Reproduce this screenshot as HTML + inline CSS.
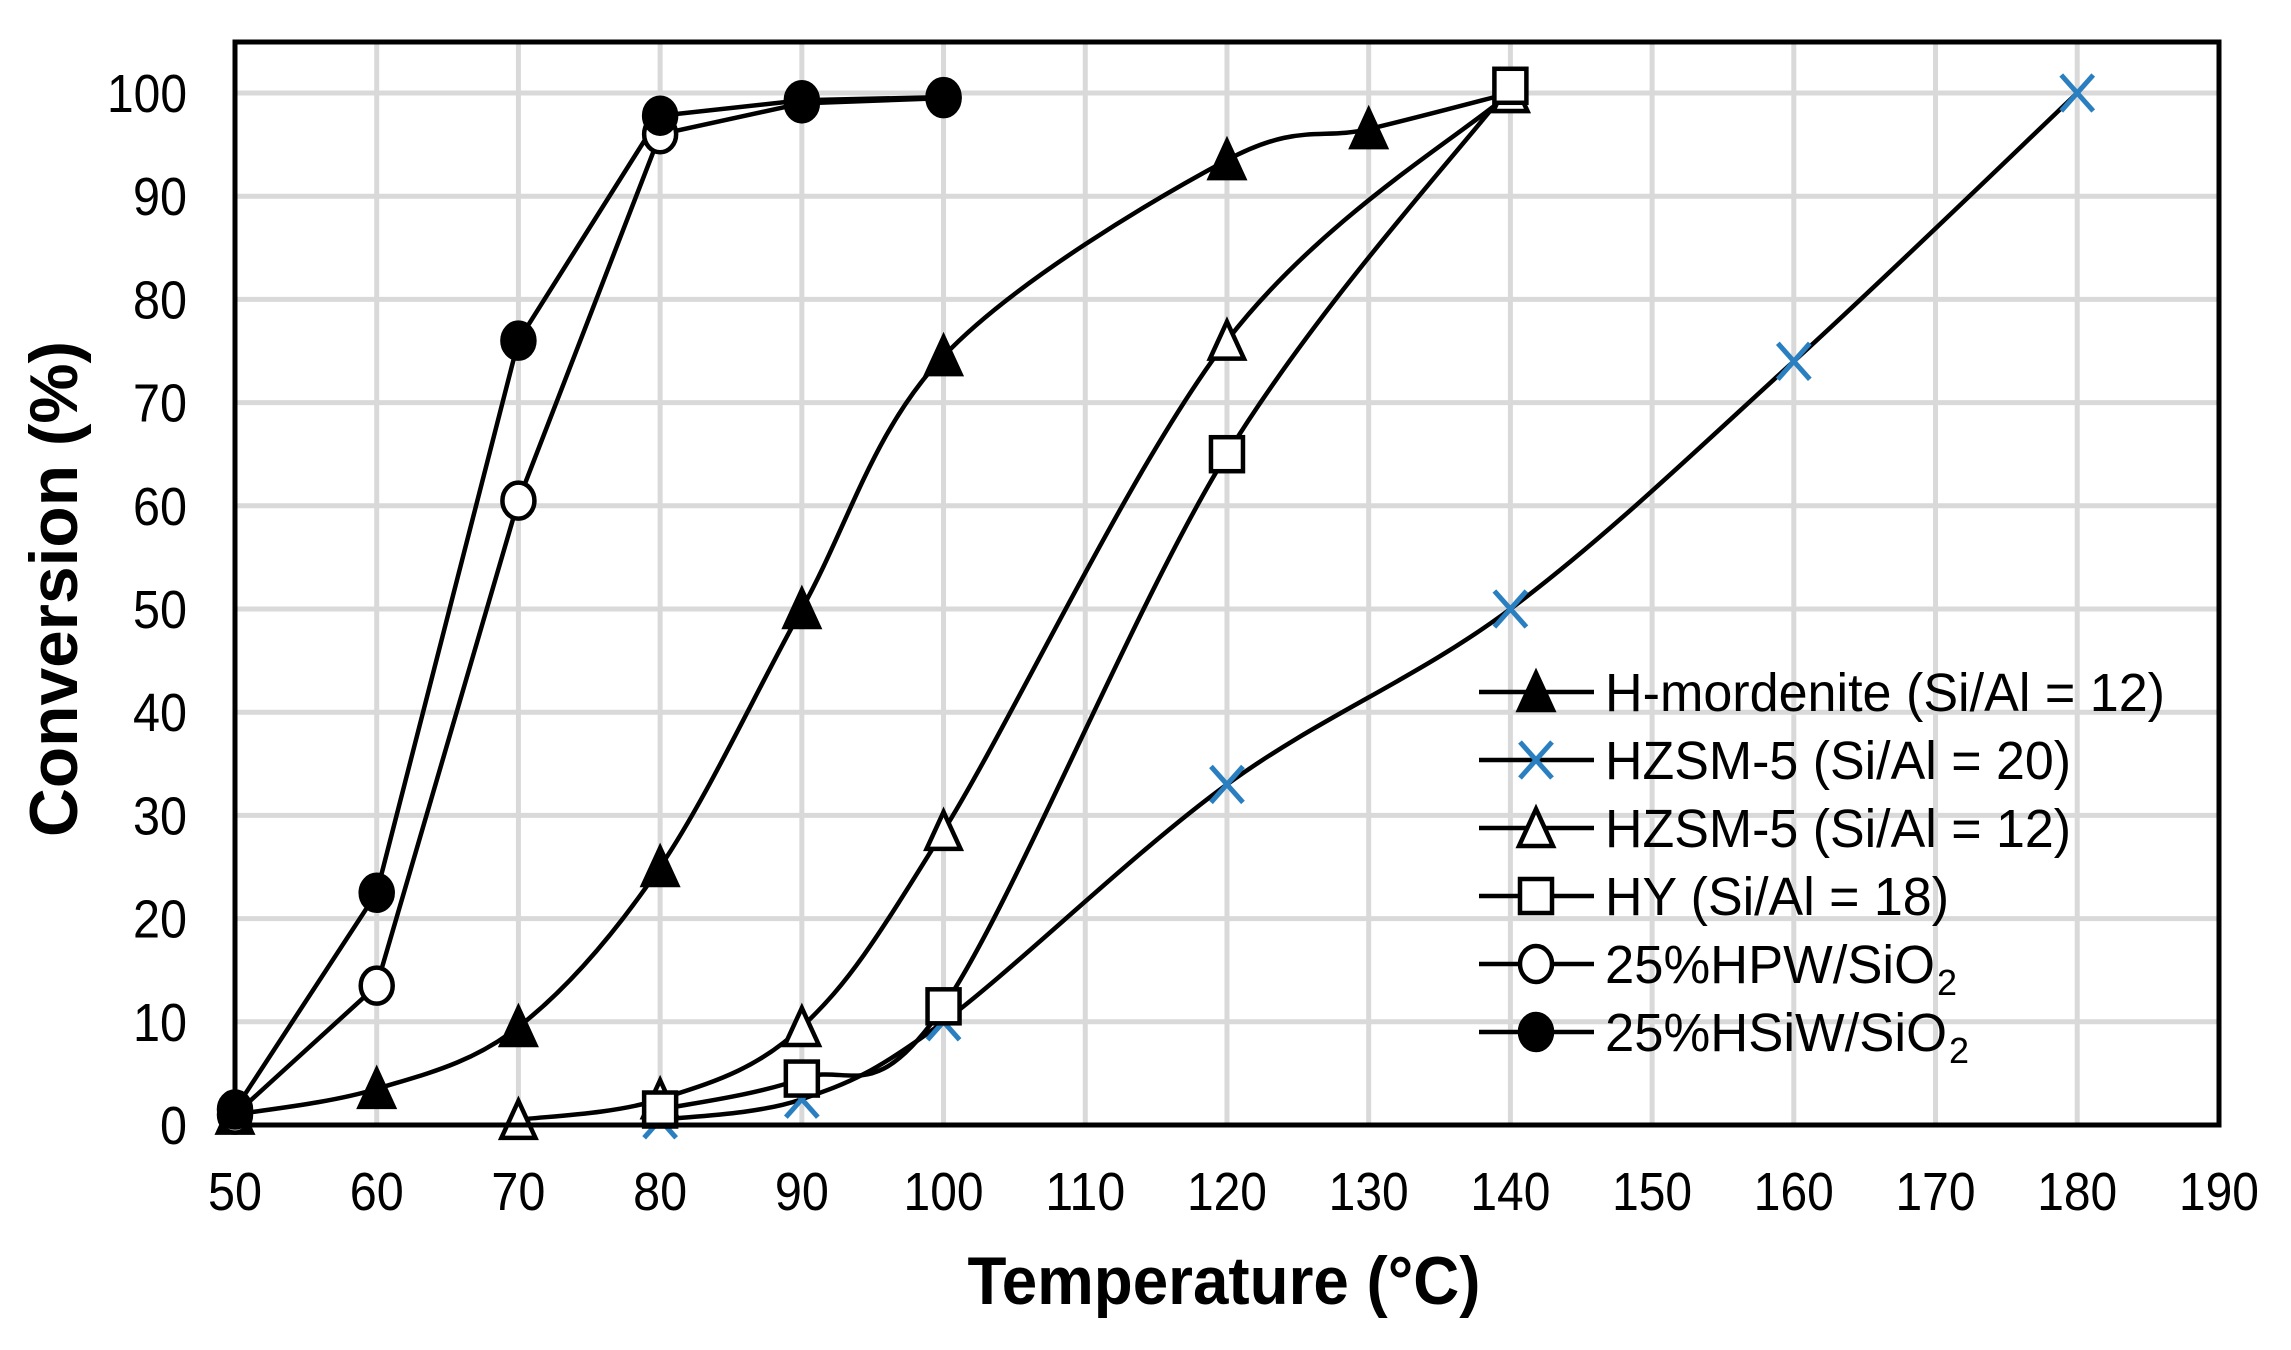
<!DOCTYPE html>
<html><head><meta charset="utf-8"><style>
html,body{margin:0;padding:0;background:#fff}
svg{display:block}
text{font-family:"Liberation Sans",Arial,sans-serif}
</style></head><body>
<svg id="s" xmlns="http://www.w3.org/2000/svg" width="2291" height="1350" viewBox="0 0 2291 1350">
<rect width="2291" height="1350" fill="#fff"/>
<g id="grid"></g>
<g id="series"></g>
<rect x="235" y="42" width="1984" height="1083" fill="none" stroke="#000" stroke-width="5"/>
<g id="ticks" font-size="54"></g>
<text x="1224" y="1304" font-size="68" font-weight="bold" text-anchor="middle" textLength="513" lengthAdjust="spacingAndGlyphs">Temperature (°C)</text>
<text transform="translate(54,589) rotate(-90)" font-size="68" font-weight="bold" text-anchor="middle" dominant-baseline="central" textLength="496" lengthAdjust="spacingAndGlyphs">Conversion (%)</text>
<g id="legend" font-size="54"></g>
</svg>
<script>
const NS="http://www.w3.org/2000/svg";
const X=t=>235+(t-50)*14.171, Y=v=>1125-10.32*v;
function el(p,tag,a,txt){const e=document.createElementNS(NS,tag);for(const k in a)e.setAttribute(k,a[k]);if(txt!==undefined)e.textContent=txt;document.getElementById(p).appendChild(e);return e;}
for(let t=60;t<190;t+=10)el('grid','line',{x1:X(t),x2:X(t),y1:42,y2:1125,stroke:'#d9d9d9','stroke-width':5});
for(let v=10;v<=100;v+=10)el('grid','line',{x1:235,x2:2219,y1:Y(v),y2:Y(v),stroke:'#d9d9d9','stroke-width':5});
const tl=n=>String(n).length==3?80:(String(n).length==2?54:27);
for(let t=50;t<=190;t+=10)el('ticks','text',{x:X(t),y:1210,'text-anchor':'middle',textLength:tl(t),lengthAdjust:'spacingAndGlyphs'},t);
for(let v=0;v<=100;v+=10)el('ticks','text',{x:187,y:Y(v)+19,'text-anchor':'end',textLength:tl(v),lengthAdjust:'spacingAndGlyphs'},v);
function path(pts,smooth){
  const P=pts.map(p=>[X(p[0]),Y(p[1])]);let d=`M${P[0][0]},${P[0][1]}`;
  if(!smooth){for(let i=1;i<P.length;i++)d+=` L${P[i][0]},${P[i][1]}`;return d;}
  for(let i=0;i<P.length-1;i++){const p0=P[i-1]||P[i],p1=P[i],p2=P[i+1],p3=P[i+2]||P[i+1];const k=1/6;
    d+=` C${p1[0]+(p2[0]-p0[0])*k},${p1[1]+(p2[1]-p0[1])*k} ${p2[0]-(p3[0]-p1[0])*k},${p2[1]-(p3[1]-p1[1])*k} ${p2[0]},${p2[1]}`;}
  return d;}
function marker(g,type,x,y){
  const s={stroke:'#000','stroke-width':4.5};
  if(type=='tf'||type=='to')el(g,'polygon',Object.assign({points:`${x},${y-19} ${x+17},${y+18} ${x-17},${y+18}`,fill:type=='tf'?'#000':'#fff'},s));
  else if(type=='sq')el(g,'rect',Object.assign({x:x-16,y:y-17,width:32,height:34,fill:'#fff'},s));
  else if(type=='co'||type=='cf')el(g,'ellipse',Object.assign({cx:x,cy:y,rx:16,ry:18,fill:type=='cf'?'#000':'#fff'},s));
  else if(type=='x'){const c={stroke:'#2a7fc0','stroke-width':5};el(g,'line',Object.assign({x1:x-16,y1:y-18,x2:x+16,y2:y+18},c));el(g,'line',Object.assign({x1:x-16,y1:y+18,x2:x+16,y2:y-18},c));}
}
const S=[
 ['tf','H-mordenite (Si/Al = 12)',[[50,1],[60,3.5],[70,9.5],[80,25],[90,50],[100,74.5],[120,93.5],[130,96.5],[140,100]],1,560],
 ['x','HZSM-5 (Si/Al = 20)',[[80,0.5],[90,2.5],[100,10],[120,33],[140,50],[160,74],[180,100]],1,466],
 ['to','HZSM-5 (Si/Al = 12)',[[70,0.5],[80,2.5],[90,9.5],[100,28.5],[120,76],[140,100]],1,466],
 ['sq','HY (Si/Al = 18)',[[80,1.5],[90,4.5],[100,11.5],[120,65],[140,100.7]],1,344],
 ['co','25%HPW/SiO',[[50,1],[60,13.5],[70,60.5],[80,96],[90,99],[100,99.5]],0,330],
 ['cf','25%HSiW/SiO',[[50,1.5],[60,22.5],[70,76],[80,97.8],[90,99.3],[100,99.6]],0,342]
];
S.forEach(s=>el('series','path',{d:path(s[2],s[3]),fill:'none',stroke:'#000','stroke-width':4.5}));
S.forEach(s=>s[2].forEach(p=>marker('series',s[0],X(p[0]),Y(p[1]))));
S.forEach((s,i)=>{const y=692+i*68;
  el('legend','line',{x1:1479,x2:1594,y1:y,y2:y,stroke:'#000','stroke-width':4.5});
  marker('legend',s[0],1536,y);
  el('legend','text',{x:1605,y:y+19,textLength:s[4],lengthAdjust:'spacingAndGlyphs'},s[1]);
  if(i>=4)el('legend','text',{x:1605+s[4]+2,y:y+31,'font-size':36},'2');
});
</script>
</body></html>
